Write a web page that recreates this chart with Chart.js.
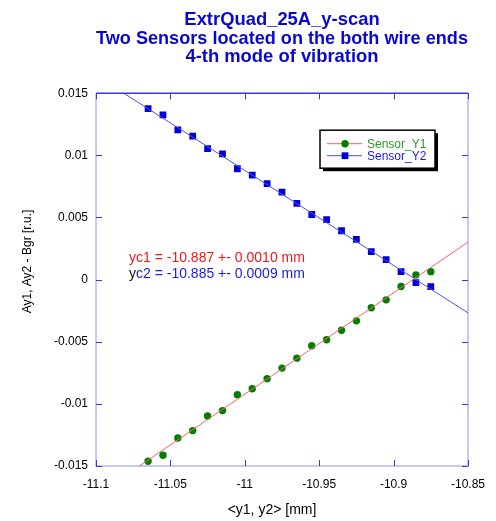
<!DOCTYPE html>
<html>
<head>
<meta charset="utf-8">
<title>ExtrQuad_25A_y-scan</title>
<script src="https://cdn.jsdelivr.net/npm/chart.js@4.4.1/dist/chart.umd.min.js"></script>
<style>
  html, body { margin: 0; padding: 0; background: #fff; }
  #wrap { width: 496px; height: 521px; }
</style>
</head>
<body>
<div id="wrap"><canvas id="chart"></canvas></div>
<script>
// wire position <y1, y2> for each scan step [mm]
const scanY = [
  -11.065, -11.055, -11.045, -11.035, -11.025, -11.015, -11.005, -10.995, -10.985, -10.975,
  -10.965, -10.955, -10.945, -10.935, -10.925, -10.915, -10.905, -10.895, -10.885, -10.875
];

// amplitude minus background [r.u.]
const sensorY1 = [
  -0.01462, -0.01413, -0.01275, -0.01215, -0.01098, -0.01054, -0.00926, -0.00878, -0.00797, -0.00712,
  -0.00632, -0.00532, -0.00484, -0.00407, -0.00332, -0.00227, -0.00163, -0.00056, 0.00038, 0.00064
];
const sensorY2 = [
  0.01376, 0.01325, 0.01205, 0.01154, 0.01054, 0.01012, 0.00892, 0.00841, 0.00773, 0.00704,
  0.00613, 0.00524, 0.00482, 0.00393, 0.00324, 0.00225, 0.00161, 0.00064, -0.00024, -0.00056
];

// linear fits: zero crossing yc, its error, slope [r.u./mm]
const fitY1 = { yc: -10.887, err: 0.0010, slope: 0.0816 };
const fitY2 = { yc: -10.885, err: 0.0009, slope: -0.0764 };

const xRange = [-11.1, -10.85];
const yRange = [-0.015, 0.015];

const titleLines = [
  'ExtrQuad_25A_y-scan',
  'Two Sensors located on the both wire ends',
  '4-th mode of vibration'
];
const xTitle = '<y1, y2> [mm]';
const yTitle = 'Ay1, Ay2 - Bgr [r.u.]';

const FONT = '"Liberation Sans", Arial, Helvetica, sans-serif';
const TICK = 6;

const points = (xs, ys) => xs.map((x, i) => ({ x, y: ys[i] }));
const fitLine = fit => xRange.map(x => ({ x, y: fit.slope * (x - fit.yc) }));
const fmt = v => String(parseFloat(v.toFixed(4)));

const datasets = [
  {
    label: 'fit_Y1', data: fitLine(fitY1),
    borderColor: '#f06464', borderWidth: 1, pointRadius: 0, showLine: true
  },
  {
    label: 'fit_Y2', data: fitLine(fitY2),
    borderColor: '#5050dc', borderWidth: 1, pointRadius: 0, showLine: true
  },
  {
    label: 'Sensor_Y1', data: points(scanY, sensorY1),
    pointStyle: 'circle', pointRadius: 3.7, borderWidth: 0,
    backgroundColor: '#007f00', borderColor: '#007f00',
    legendLine: '#f06464', legendColor: '#2a982a'
  },
  {
    label: 'Sensor_Y2', data: points(scanY, sensorY2),
    pointStyle: 'rect', pointRadius: 4.8, borderWidth: 0,
    backgroundColor: '#0000dc', borderColor: '#0000dc',
    legendLine: '#5050dc', legendColor: '#1c1ce0'
  }
];

const frameAndLegend = {
  id: 'frameAndLegend',

  beforeDatasetsDraw(chart) {
    const { ctx, chartArea: a, scales: { x, y } } = chart;
    ctx.save();

    // pale left, right and bottom borders
    ctx.strokeStyle = '#b6b6f2';
    ctx.lineWidth = 1.5;
    ctx.beginPath();
    ctx.moveTo(a.left, a.top);
    ctx.lineTo(a.left, a.bottom);
    ctx.lineTo(a.right, a.bottom);
    ctx.lineTo(a.right, a.top);
    ctx.stroke();

    // top border
    ctx.strokeStyle = '#3636e2';
    ctx.beginPath();
    ctx.moveTo(a.left, a.top);
    ctx.lineTo(a.right, a.top);
    ctx.stroke();

    // inward tick marks on all four sides
    ctx.lineWidth = 1;
    ctx.beginPath();
    x.ticks.forEach((t, i) => {
      const px = Math.round(x.getPixelForTick(i)) + 0.5;
      ctx.moveTo(px, a.top); ctx.lineTo(px, a.top + TICK);
      ctx.moveTo(px, a.bottom); ctx.lineTo(px, a.bottom - TICK);
    });
    y.ticks.forEach((t, i) => {
      const py = Math.round(y.getPixelForTick(i)) + 0.5;
      ctx.moveTo(a.left, py); ctx.lineTo(a.left + TICK, py);
      ctx.moveTo(a.right, py); ctx.lineTo(a.right - TICK, py);
    });
    ctx.stroke();
    ctx.restore();
  },

  afterDraw(chart) {
    const { ctx, chartArea: a, width, height } = chart;
    ctx.save();

    // axis titles
    ctx.fillStyle = '#000';
    ctx.textAlign = 'center';
    ctx.textBaseline = 'middle';
    ctx.font = '14px ' + FONT;
    ctx.fillText(xTitle, a.left + 176, height - 11);
    ctx.save();
    ctx.translate(28, height / 2 + 1);
    ctx.rotate(-Math.PI / 2);
    ctx.font = '12px ' + FONT;
    ctx.fillText(yTitle, 0, 0);
    ctx.restore();

    // fit results
    ctx.font = '14px ' + FONT;
    ctx.textAlign = 'left';
    const tx = a.left + 33;
    const ty = a.top + 165;
    ctx.fillStyle = '#ee1818';
    ctx.fillText('yc1 = ' + fitY1.yc.toFixed(3) + ' +- ' + fitY1.err.toFixed(4) + ' mm', tx, ty);
    ctx.fillStyle = '#111111';
    ctx.fillText('y', tx, ty + 16);
    ctx.fillStyle = '#1c1cd8';
    ctx.fillText('c2 = ' + fitY2.yc.toFixed(3) + ' +- ' + fitY2.err.toFixed(4) + ' mm',
      tx + ctx.measureText('y').width, ty + 16);

    // legend box with drop shadow
    const lx = a.left + 224, ly = a.top + 37, lw = 115, lh = 38;
    ctx.fillStyle = '#000';
    ctx.fillRect(lx + 3, ly + 3, lw, lh);
    ctx.fillStyle = '#fff';
    ctx.fillRect(lx, ly, lw, lh);
    ctx.strokeStyle = '#000';
    ctx.lineWidth = 1.5;
    ctx.strokeRect(lx, ly, lw, lh);

    ctx.font = '12px ' + FONT;
    chart.data.datasets.filter(d => d.legendColor).forEach((d, i) => {
      const ry = ly + 13.5 + i * 12;
      ctx.strokeStyle = d.legendLine;
      ctx.lineWidth = 1;
      ctx.beginPath();
      ctx.moveTo(lx + 7, ry);
      ctx.lineTo(lx + 42, ry);
      ctx.stroke();
      ctx.fillStyle = d.backgroundColor;
      ctx.strokeStyle = d.backgroundColor;
      Chart.helpers.drawPoint(ctx, {
        pointStyle: d.pointStyle, radius: d.pointRadius, rotation: 0, borderWidth: 0
      }, lx + 25, ry);
      ctx.fillStyle = d.legendColor;
      ctx.fillText(d.label, lx + 47, ry + 0.5);
    });

    ctx.restore();
  }
};

new Chart(document.getElementById('chart'), {
  type: 'scatter',
  data: { datasets },
  options: {
    responsive: true,
    maintainAspectRatio: false,
    animation: false,
    layout: { padding: { left: 0, right: 27, top: 0, bottom: 0 } },
    plugins: {
      legend: { display: false },
      tooltip: { enabled: false },
      title: {
        display: true,
        fullSize: false,
        text: titleLines,
        color: '#0808d0',
        font: { family: FONT, size: 18.4, weight: 'bold', lineHeight: 1 },
        padding: { top: 11, bottom: 27 }
      }
    },
    scales: {
      x: {
        type: 'linear',
        min: xRange[0],
        max: xRange[1],
        grid: { display: false, drawTicks: false },
        border: { display: false },
        ticks: {
          stepSize: 0.05,
          padding: 11,
          color: '#000',
          font: { family: FONT, size: 12 },
          callback: v => fmt(v)
        },
        afterFit: scale => { scale.height = 55; }
      },
      y: {
        type: 'linear',
        min: yRange[0],
        max: yRange[1],
        grid: { display: false, drawTicks: false },
        border: { display: false },
        ticks: {
          stepSize: 0.005,
          padding: 8,
          color: '#000',
          font: { family: FONT, size: 12 },
          callback: v => fmt(v)
        },
        afterFit: scale => { scale.width = 96; }
      }
    }
  },
  plugins: [frameAndLegend]
});
</script>
</body>
</html>
